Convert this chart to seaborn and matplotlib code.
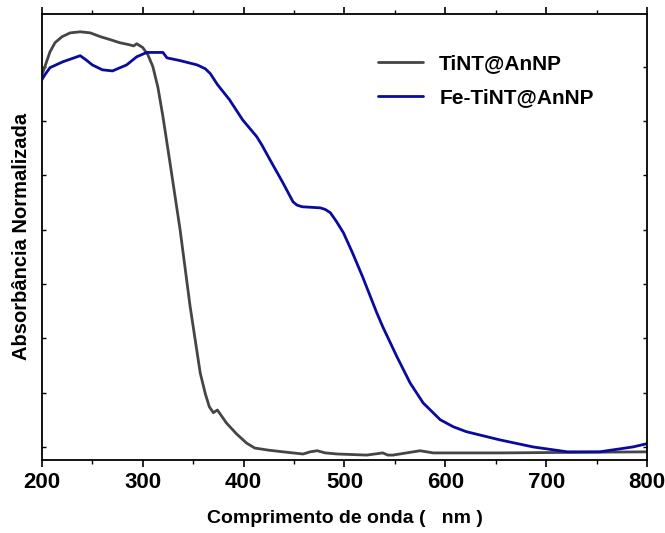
import numpy as np
import pandas as pd
import matplotlib
matplotlib.use('Agg')
import matplotlib.pyplot as plt
import seaborn as sns
from matplotlib.ticker import MultipleLocator

# TiNT@AnNP spectrum (wavelength nm, normalised absorbance)
tint_nm = [200, 203, 208, 213, 220, 228, 238, 248, 258, 267, 277, 287, 291, 294,
           300, 305, 310, 315, 320, 327, 337, 347, 357, 362, 366, 370, 374, 383,
           393, 403, 411, 425, 439, 459, 466, 473, 481, 493, 522, 538, 543, 548,
           575, 588, 654, 800]
tint_abs = [0.685, 0.700, 0.727, 0.744, 0.755, 0.762, 0.764, 0.762, 0.755, 0.750,
            0.744, 0.740, 0.738, 0.742, 0.735, 0.722, 0.700, 0.662, 0.608, 0.523,
            0.400, 0.258, 0.136, 0.098, 0.074, 0.063, 0.068, 0.044, 0.024, 0.007,
            -0.002, -0.006, -0.009, -0.013, -0.009, -0.007, -0.011, -0.013,
            -0.015, -0.011, -0.015, -0.015, -0.007, -0.011, -0.011, -0.009]

# Fe-TiNT@AnNP spectrum
fe_nm = [200, 203, 208, 221, 238, 244, 250, 260, 270, 284, 294, 304, 320, 324,
         337, 354, 362, 367, 374, 386, 399, 413, 418, 426, 439, 449, 453, 458,
         467, 476, 481, 486, 492, 499, 508, 518, 532, 538, 552, 565, 578, 595,
         608, 621, 654, 687, 721, 753, 786, 800]
fe_abs = [0.676, 0.685, 0.698, 0.709, 0.720, 0.712, 0.703, 0.694, 0.692, 0.703,
          0.718, 0.726, 0.726, 0.716, 0.711, 0.703, 0.696, 0.687, 0.667, 0.639,
          0.602, 0.571, 0.556, 0.529, 0.486, 0.451, 0.445, 0.442, 0.441, 0.440,
          0.437, 0.431, 0.415, 0.394, 0.357, 0.313, 0.247, 0.221, 0.166, 0.118,
          0.081, 0.050, 0.037, 0.028, 0.013, 0.000, -0.009, -0.009, 0.000, 0.006]

labels = ['TiNT@AnNP', 'Fe-TiNT@AnNP']
colors = ['#454545', '#0a0aa0']

sns.set_style('ticks')
plt.rcParams['font.family'] = ['Liberation Sans', 'DejaVu Sans']
plt.rcParams['font.weight'] = 'bold'
plt.rcParams['text.color'] = 'black'
plt.rcParams['axes.labelcolor'] = 'black'
plt.rcParams['xtick.color'] = 'black'
plt.rcParams['ytick.color'] = 'black'

fig = plt.figure(figsize=(6.65, 5.33), dpi=100)
ax = fig.add_axes([0.063, 0.137, 0.910, 0.837])

df1 = pd.DataFrame({'nm': tint_nm, 'abs': tint_abs})
df2 = pd.DataFrame({'nm': fe_nm, 'abs': fe_abs})
sns.lineplot(data=df1, x='nm', y='abs', color=colors[0], lw=2.0, label=labels[0], ax=ax)
sns.lineplot(data=df2, x='nm', y='abs', color=colors[1], lw=2.0, label=labels[1], ax=ax)

ax.set_xlim(200, 800)
ax.set_ylim(-0.024, 0.797)
ax.xaxis.set_major_locator(MultipleLocator(100))
ax.xaxis.set_minor_locator(MultipleLocator(50))
ax.yaxis.set_major_locator(MultipleLocator(0.1))
ax.set_yticklabels([])

for s in ax.spines.values():
    s.set_visible(True)
    s.set_linewidth(1.3)
    s.set_color('black')

ax.tick_params(axis='x', which='major', direction='out', length=5, width=1.2,
               labelsize=16, pad=4, top=True)
ax.tick_params(axis='x', which='minor', direction='out', length=3, width=1.0, top=True)
ax.tick_params(axis='y', which='major', direction='in', length=3, width=1.0,
               left=True, right=True)
for lab in ax.get_xticklabels():
    lab.set_fontweight('bold')

ax.set_xlabel('Comprimento de onda (   nm )', fontsize=14, fontweight='bold', labelpad=12)
ax.set_ylabel('Absorbância Normalizada', fontsize=14.5, fontweight='bold', labelpad=4)

leg = ax.legend(loc='upper left', frameon=False, fontsize=15, handlelength=2.15,
                handletextpad=0.8, labelspacing=0.7, borderpad=0, borderaxespad=0,
                bbox_to_anchor=(0.555, 0.909))
for t in leg.get_texts():
    t.set_fontweight('bold')

fig.savefig('out.png', dpi=100)
